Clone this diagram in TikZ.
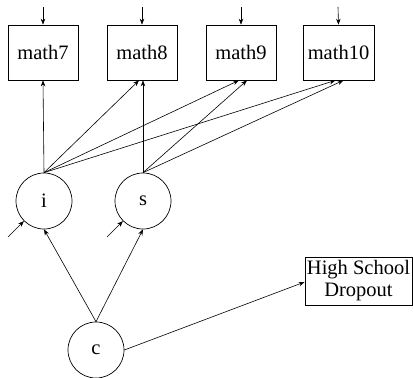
\documentclass[tikz,border=0pt]{standalone}
\usepackage{fontspec}
\setmainfont{Liberation Serif}
\usetikzlibrary{arrows.meta}
\begin{document}
\begin{tikzpicture}[x=1pt,y=-1pt,
  obs/.style={draw, line width=0.7pt, minimum width=70pt, minimum height=55pt, inner sep=0pt, font=\fontsize{20.5}{22}\selectfont},
  lat/.style={draw, line width=0.7pt, circle, minimum size=56pt, inner sep=0pt, font=\fontsize{20.5}{22}\selectfont},
  arr/.style={-{Stealth[length=6pt,width=4.5pt]}, line width=0.6pt}]
\useasboundingbox (0,0) rectangle (413,378);
\node[obs] (m7) at (43,52.5) {math7};
\node[obs] (m8) at (142,52.5) {math8};
\node[obs] (m9) at (241,52.5) {math9};
\node[obs, minimum width=71pt] (m10) at (338.5,52.5) {math10};
\node[obs, minimum width=107pt, minimum height=48pt, align=center] (hsd) at (358.5,281) {High School\\Dropout};
\node[lat] (i) at (44,201) {i};
\node[lat] (s) at (143,201) {s};
\node[lat] (c) at (96,350) {c};
% residuals
\coordinate (e7) at (43,7);
\coordinate (e8) at (142,7);
\coordinate (e9) at (241,7);
\coordinate (e10) at (338,7);
\coordinate (ei) at (8,237);
\coordinate (es) at (107,237);
\draw[arr] (e7) -- (m7.north);
\draw[arr] (e8) -- (m8.north);
\draw[arr] (e9) -- (m9.north);
\draw[arr] (e10) -- (m10.north);
\draw[arr] (ei) -- (i);
\draw[arr] (es) -- (s);
% loadings
\draw[arr] (i.north) -- (m7.south);
\draw[arr] (i.north) -- ([xshift=-3pt]m8.south);
\draw[arr] (i.north) -- ([xshift=-2pt]m9.south);
\draw[arr] (i.north) -- ([xshift=-3pt]m10.south);
\draw[arr] (s.north) -- ([xshift=1pt]m8.south);
\draw[arr] (s.north) -- ([xshift=6pt]m9.south);
\draw[arr] (s.north) -- ([xshift=5pt]m10.south);
% c effects
\draw[arr] (c.north) -- (i.south);
\draw[arr] (c.north) -- (s.south);
\draw[arr] (c.east) -- ([yshift=-1pt]hsd.west);
\end{tikzpicture}
\end{document}
